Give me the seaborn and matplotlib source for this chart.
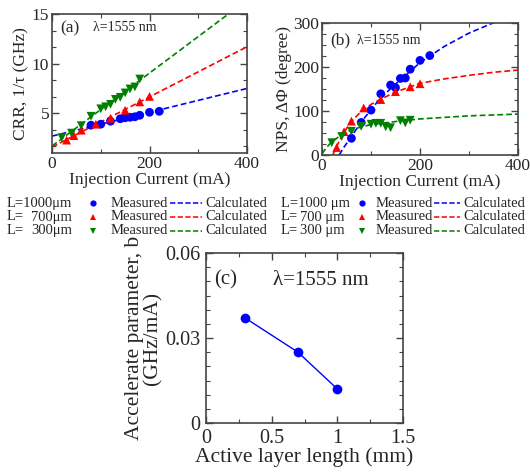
import numpy as np
import pandas as pd
import matplotlib
matplotlib.use("Agg")
import matplotlib.pyplot as plt
from matplotlib.ticker import MultipleLocator, AutoMinorLocator
from matplotlib.lines import Line2D
import seaborn as sns

sns.set_style("ticks")
plt.rcParams['font.family'] = ['Liberation Serif', 'DejaVu Serif']
plt.rcParams['mathtext.fontset'] = 'stix'

# ---- data ----
# (a) CRR, 1/tau (GHz) vs injection current (mA)
crr_I_1000 = [80, 100, 120, 140, 150, 160, 170, 180, 200, 220]
crr_v_1000 = [3.8, 3.9, 4.2, 4.45, 4.55, 4.6, 4.65, 4.8, 5.1, 5.2]
crr_I_700 = [30, 45, 60, 90, 120, 150, 180, 200]
crr_v_700 = [2.3, 2.75, 3.3, 3.9, 4.5, 5.3, 6.15, 6.7]
crr_I_300 = [20, 40, 60, 80, 100, 110, 120, 130, 140, 150, 160, 170, 180]
crr_v_300 = [2.55, 3.0, 3.75, 4.7, 5.45, 5.65, 5.9, 6.4, 6.6, 7.05, 7.45, 7.65, 8.45]
crr_calc_I = [0, 400]
crr_calc_1000 = [2.7, 7.5]
crr_calc_700 = [1.6, 11.7]
crr_calc_300 = [1.7, 16.4]

# (b) NPS, delta Phi (degree) vs injection current (mA)
nps_I_1000 = [60, 80, 100, 120, 140, 150, 160, 170, 180, 200, 220]
nps_v_1000 = [38, 74, 102, 139, 159, 153, 174, 175, 195, 215, 226]
nps_I_700 = [30, 45, 60, 85, 120, 150, 180, 200]
nps_v_700 = [17, 53, 77, 107, 126, 144, 155, 162]
nps_I_300 = [20, 40, 60, 80, 100, 110, 120, 130, 140, 160, 170, 180]
nps_v_300 = [28, 42, 54, 65, 70, 72, 72, 64, 62, 78, 73, 79]
nps_calc_I_1000 = [35, 45, 60, 80, 100, 120, 150, 200, 250, 300, 353, 400]
nps_calc_v_1000 = [0, 18, 42, 75, 103, 130, 161, 210, 247, 277, 302, 322]
nps_calc_I_700 = [22, 30, 40, 50, 60, 80, 100, 120, 150, 200, 250, 300, 350, 400]
nps_calc_v_700 = [0, 20, 42, 60, 76, 99, 115, 127, 143, 163, 173, 181, 188, 193]
nps_calc_I_300 = [0, 10, 20, 40, 60, 80, 100, 150, 200, 300, 400]
nps_calc_v_300 = [3, 18, 30, 46, 57, 64, 69, 76, 82, 89, 93]

# (c) accelerate parameter b vs active layer length
length_mm = [0.3, 0.7, 1.0]
accel_b = [0.037, 0.025, 0.012]

lengths = ["1000", "700", "300"]
colors = {"1000": "#0000ff", "700": "#ff0000", "300": "#008000"}
markers = {"1000": "o", "700": "^", "300": "v"}

crr_meas = pd.concat([
    pd.DataFrame({"I": crr_I_1000, "v": crr_v_1000, "L": "1000"}),
    pd.DataFrame({"I": crr_I_700, "v": crr_v_700, "L": "700"}),
    pd.DataFrame({"I": crr_I_300, "v": crr_v_300, "L": "300"}),
])
crr_calc = pd.concat([
    pd.DataFrame({"I": crr_calc_I, "v": crr_calc_1000, "L": "1000"}),
    pd.DataFrame({"I": crr_calc_I, "v": crr_calc_700, "L": "700"}),
    pd.DataFrame({"I": crr_calc_I, "v": crr_calc_300, "L": "300"}),
])
nps_meas = pd.concat([
    pd.DataFrame({"I": nps_I_1000, "v": nps_v_1000, "L": "1000"}),
    pd.DataFrame({"I": nps_I_700, "v": nps_v_700, "L": "700"}),
    pd.DataFrame({"I": nps_I_300, "v": nps_v_300, "L": "300"}),
])
nps_calc = pd.concat([
    pd.DataFrame({"I": nps_calc_I_1000, "v": nps_calc_v_1000, "L": "1000"}),
    pd.DataFrame({"I": nps_calc_I_700, "v": nps_calc_v_700, "L": "700"}),
    pd.DataFrame({"I": nps_calc_I_300, "v": nps_calc_v_300, "L": "300"}),
])

W, H = 530, 472
fig = plt.figure(figsize=(W / 100, H / 100), dpi=100)


def px_axes(l, t, r, b):
    return fig.add_axes([l / W, 1 - b / H, (r - l) / W, (b - t) / H])


def style_axes(ax, size, pad=2):
    for s in ax.spines.values():
        s.set_color("#444444")
        s.set_linewidth(1.2)
    ax.tick_params(which="both", direction="in", top=True, right=True,
                   color="#444444", labelsize=size, pad=pad)
    ax.tick_params(which="major", length=5, width=1)
    ax.tick_params(which="minor", length=3, width=0.8)


def draw_panel(ax, meas, calc):
    for L in lengths:
        c = calc[calc["L"] == L]
        sns.lineplot(data=c, x="I", y="v", ax=ax, color=colors[L], sort=False,
                     lw=1.2, linestyle=(0, (3.5, 1.8)), legend=False)
        m = meas[meas["L"] == L]
        sns.scatterplot(data=m, x="I", y="v", ax=ax, color=colors[L],
                        marker=markers[L], s=40, edgecolor="none", legend=False,
                        zorder=3)


# ---- panel (a) ----
ax1 = px_axes(52, 14, 247, 153)
draw_panel(ax1, crr_meas, crr_calc)
ax1.set_xlim(0, 400)
ax1.set_ylim(1, 15)
ax1.xaxis.set_major_locator(MultipleLocator(200))
ax1.xaxis.set_minor_locator(AutoMinorLocator(2))
ax1.yaxis.set_major_locator(MultipleLocator(5))
ax1.yaxis.set_minor_locator(AutoMinorLocator(3))
style_axes(ax1, 12.5)
ax1.set_xlabel("Injection Current (mA)", fontsize=12.5, labelpad=0)
ax1.set_ylabel("CRR, 1/τ (GHz)", fontsize=12.5, labelpad=2)
ax1.text(0.04, 0.9, "(a)", transform=ax1.transAxes, fontsize=12.5, va="center")
ax1.text(0.21, 0.9, "λ=1555 nm", transform=ax1.transAxes, fontsize=10, va="center")

# ---- panel (b) ----
ax2 = px_axes(322, 23, 518, 155)
draw_panel(ax2, nps_meas, nps_calc)
ax2.set_xlim(0, 400)
ax2.set_ylim(0, 300)
ax2.xaxis.set_major_locator(MultipleLocator(200))
ax2.xaxis.set_minor_locator(AutoMinorLocator(2))
ax2.yaxis.set_major_locator(MultipleLocator(100))
ax2.yaxis.set_minor_locator(AutoMinorLocator(4))
style_axes(ax2, 12.5)
ax2.set_xlabel("Injection Current (mA)", fontsize=12.5, labelpad=0)
ax2.set_ylabel("NPS, ΔΦ (degree)", fontsize=12.5, labelpad=1)
ax2.text(0.04, 0.87, "(b)", transform=ax2.transAxes, fontsize=12.5, va="center")
ax2.text(0.18, 0.87, "λ=1555 nm", transform=ax2.transAxes, fontsize=10, va="center")

# ---- panel (c) ----
ax3 = px_axes(206, 253, 403, 423)
sns.lineplot(x=length_mm, y=accel_b, ax=ax3, color="#0000ff", lw=1,
             marker="o", markersize=7, markeredgewidth=0)
ax3.set_xlim(0, 1.5)
ax3.set_ylim(0, 0.06)
ax3.xaxis.set_major_locator(MultipleLocator(0.5))
ax3.xaxis.set_minor_locator(AutoMinorLocator(2))
ax3.yaxis.set_major_locator(MultipleLocator(0.03))
ax3.yaxis.set_minor_locator(AutoMinorLocator(6))
ax3.set_xticks([0, 0.5, 1, 1.5], ["0", "0.5", "1", "1.5"])
ax3.set_yticks([0, 0.03, 0.06], ["0", "0.03", "0.06"])
style_axes(ax3, 14.5, pad=4)
ax3.set_xlabel("Active layer length (mm)", fontsize=15.5, labelpad=0)
ax3.set_ylabel("Accelerate parameter, b\n(GHz/mA)", fontsize=15.5,
               labelpad=2, linespacing=0.95)
ax3.text(0.04, 0.84, "(c)", transform=ax3.transAxes, fontsize=15, va="center")
ax3.text(0.34, 0.84, "λ=1555 nm", transform=ax3.transAxes, fontsize=15, va="center")

# ---- legends under (a) and (b) ----
rows_y = [203, 217, 231]


def draw_legend(x_L, x_num, x_mark, x_meas, x_d0, x_d1, x_calc, unit, fs):
    for yy, L in zip(rows_y, lengths):
        fy = 1 - yy / H
        if L == "1000":
            fig.text(x_L / W, fy, "L=" + L + unit, fontsize=fs, va="center", ha="left")
        else:
            fig.text(x_L / W, fy, "L=", fontsize=fs, va="center", ha="left")
            fig.text(x_num / W, fy, L + unit, fontsize=fs, va="center", ha="right")
        fig.add_artist(Line2D([x_mark / W], [fy], marker=markers[L], color=colors[L],
                              markersize=4.5, markeredgewidth=0, linestyle="none",
                              transform=fig.transFigure))
        fig.text(x_meas / W, fy, "Measured", fontsize=fs, va="center", ha="left")
        fig.add_artist(Line2D([x_d0 / W, x_d1 / W], [fy, fy], color=colors[L], lw=1.1,
                              linestyle=(0, (3.5, 1.5)), transform=fig.transFigure))
        fig.text(x_calc / W, fy, "Calculated", fontsize=fs, va="center", ha="left")


draw_legend(7, 72, 93, 111, 170, 202, 205, "μm", 10.5)
draw_legend(281, 345, 362, 376, 434, 460, 463, " μm", 10.5)

fig.savefig("out.png", dpi=100)
